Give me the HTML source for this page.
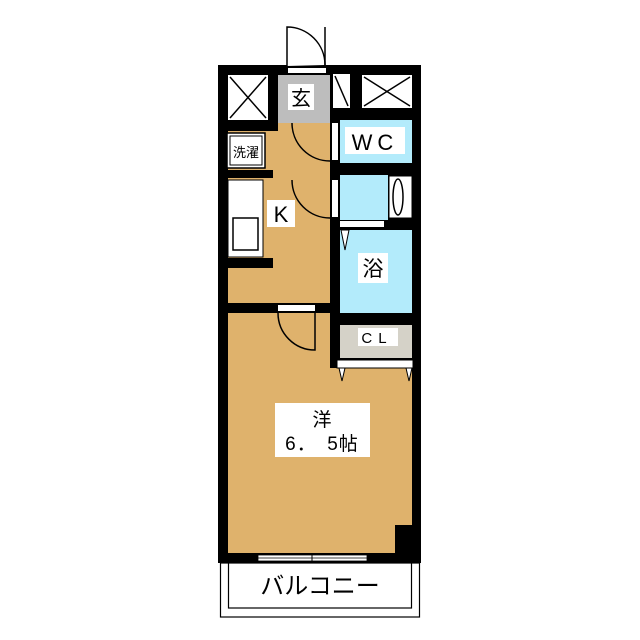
<!DOCTYPE html>
<html><head><meta charset="utf-8"><style>
html,body{margin:0;padding:0;background:#fff;width:640px;height:640px;overflow:hidden}
svg text{font-family:"Liberation Sans","Noto Sans CJK JP",sans-serif;}
</style></head><body>
<svg width="640" height="640" viewBox="0 0 640 640" xmlns="http://www.w3.org/2000/svg">
<rect width="640" height="640" fill="#fff"/>
<rect x="218" y="65" width="203" height="498" fill="#000"/>
<rect x="228" y="75" width="40" height="45" fill="#fff"/>
<path d="M230 77 L266 118 M266 77 L230 118" stroke="#000" stroke-width="1.5"/>
<rect x="362" y="75" width="50" height="33" fill="#fff"/>
<path d="M364 77 L410 106 M410 77 L364 106" stroke="#000" stroke-width="1.5"/>
<rect x="333" y="74" width="17" height="34" fill="#fff"/>
<path d="M335 76 L348 106" stroke="#000" stroke-width="1.5"/>
<rect x="278" y="75" width="52" height="48" fill="#bdbdbd"/>
<rect x="288" y="68" width="38" height="5" fill="#fff"/>
<path d="M287 66 L287 27 A38 38 0 0 1 325 65" fill="#fff" stroke="#000" stroke-width="1.5"/>
<line x1="325" y1="27" x2="325" y2="68" stroke="#000" stroke-width="1.5"/>
<rect x="288" y="84" width="26" height="26" fill="#fff"/>
<text x="301" y="105" font-size="20" text-anchor="middle">玄</text>
<rect x="228" y="123" width="102" height="180" fill="#dfb26c"/>
<rect x="228" y="123" width="50" height="8" fill="#000"/>
<rect x="227" y="133" width="38" height="35" fill="#fff" stroke="#000" stroke-width="1.5"/>
<rect x="230" y="136" width="32" height="29" fill="#fff" stroke="#000" stroke-width="1"/>
<text x="246" y="157" font-size="13" text-anchor="middle">洗濯</text>
<rect x="228" y="170" width="45" height="8" fill="#000"/>
<rect x="228" y="180" width="35" height="77" fill="#fff" stroke="#000" stroke-width="1"/>
<rect x="233" y="218" width="25" height="32" fill="#fff" stroke="#000" stroke-width="1.5"/>
<rect x="228" y="258" width="45" height="10" fill="#000"/>
<rect x="267" y="200" width="28" height="27" fill="#fff"/>
<text x="281" y="222" font-size="22" text-anchor="middle">K</text>
<rect x="330" y="108" width="10" height="260" fill="#000"/>
<rect x="340" y="120" width="72" height="43" fill="#b3ebfb"/>
<rect x="332" y="123" width="6" height="37" fill="#fff"/>
<path d="M292 123 A38 38 0 0 0 330 161" fill="none" stroke="#000" stroke-width="1.5"/>
<rect x="345" y="127" width="60" height="27" fill="#fff"/>
<text x="375" y="150" font-size="22" text-anchor="middle" letter-spacing="5">WC</text>
<rect x="340" y="175" width="48" height="45" fill="#b3ebfb"/>
<rect x="332" y="180" width="6" height="37" fill="#fff"/>
<path d="M292 180 A38 38 0 0 0 330 218" fill="none" stroke="#000" stroke-width="1.5"/>
<rect x="389" y="176" width="23" height="42" fill="#fff" stroke="#000" stroke-width="1"/>
<ellipse cx="398" cy="197" rx="5" ry="18" fill="#fff" stroke="#000" stroke-width="1.5"/>
<rect x="340" y="221" width="44" height="6" fill="#fff"/>
<rect x="340" y="230" width="72" height="83" fill="#b3ebfb"/>
<path d="M341 230 L345 250 L349 230 Z" fill="#fff" stroke="#000" stroke-width="1"/>
<rect x="358" y="253" width="30" height="30" fill="#fff"/>
<text x="373" y="276" font-size="21" text-anchor="middle">浴</text>
<rect x="340" y="325" width="72" height="33" fill="#d5d2c8"/>
<rect x="358" y="328" width="40" height="18" fill="#fff"/>
<text x="377" y="343" font-size="15" text-anchor="middle" letter-spacing="6">CL</text>
<path d="M228 313 L330 313 L330 368 L412 368 L412 525 L395 525 L395 553 L228 553 Z" fill="#dfb26c"/>
<rect x="337" y="360" width="76" height="8" fill="#fff" stroke="#000" stroke-width="1"/>
<path d="M339 368 L342 381 L345 368 Z M406 368 L409 381 L412 368 Z" fill="#fff" stroke="#000" stroke-width="1"/>
<rect x="278" y="305" width="37" height="6" fill="#fff"/>
<path d="M278 313 A37 37 0 0 0 315 350 L315 313" fill="none" stroke="#000" stroke-width="1.5"/>
<rect x="275" y="403" width="95" height="54" fill="#fff"/>
<text x="322" y="426" font-size="19" text-anchor="middle">洋</text>
<text x="322" y="450" font-size="19" text-anchor="middle" letter-spacing="1">6．　5帖</text>
<rect x="258" y="555" width="109" height="6" fill="#fff" stroke="#000" stroke-width="0.8"/>
<line x1="258" y1="558" x2="367" y2="558" stroke="#000" stroke-width="0.8"/>
<line x1="312" y1="553" x2="312" y2="563" stroke="#000" stroke-width="1"/>
<rect x="220.5" y="563" width="199" height="54" fill="#fff" stroke="#000" stroke-width="1.2"/>
<rect x="228.5" y="563" width="183" height="45" fill="#fff" stroke="#000" stroke-width="1.2"/>
<text x="320" y="594" font-size="24" text-anchor="middle">バルコニー</text>
</svg>
</body></html>
